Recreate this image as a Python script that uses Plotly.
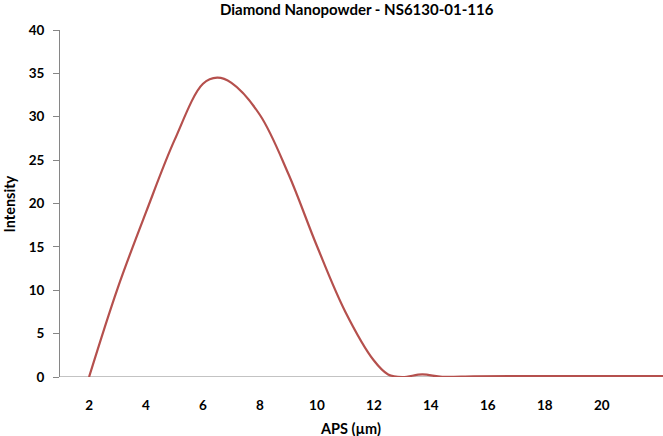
import plotly.graph_objects as go

# particle size (um) vs intensity
aps = [2, 3, 4, 5, 6, 6.5, 7, 8, 9, 10, 11, 12, 12.5, 13, 13.7, 14.4,
       15.5, 17, 19, 21, 22.15]
intensity = [0, 10.2, 19.0, 27.3, 33.8, 34.5, 33.9, 30.2, 23.4, 15.1, 7.5, 1.9,
             0.3, 0.0, 0.3, 0.02, 0.08, 0.1, 0.1, 0.1, 0.1]

x_ticks = [2, 4, 6, 8, 10, 12, 14, 16, 18, 20]
y_ticks = [0, 5, 10, 15, 20, 25, 30, 35, 40]

LINE_COLOR = "#B5504D"
AXIS_COLOR = "#868686"
FONT = "Lato"

fig = go.Figure()

fig.add_trace(go.Scatter(
    x=aps,
    y=intensity,
    mode="lines",
    line=dict(color=LINE_COLOR, width=2.2, shape="spline", smoothing=1),
    showlegend=False,
    hoverinfo="skip",
))

fig.update_layout(
    width=663,
    height=436,
    paper_bgcolor="white",
    plot_bgcolor="white",
    margin=dict(l=60, r=0, t=30, b=59),
    font=dict(family=FONT, color="#000000", size=13),
    title=dict(
        text="<b>Diamond Nanopowder - NS6130-01-116</b>",
        font=dict(family=FONT, size=15, color="#000000"),
        x=0.492,
        xref="paper",
        xanchor="center",
        y=0.977,
        yanchor="middle",
    ),
    xaxis=dict(
        range=[0.98, 22.15],
        tickvals=x_ticks,
        ticktext=[f"<b>{t}</b>" for t in x_ticks],
        ticks="",
        ticklabelstandoff=18,
        showgrid=False,
        zeroline=False,
        showline=False,
        tickfont=dict(family=FONT, size=13.5, color="#000000"),
        fixedrange=True,
    ),
    yaxis=dict(
        range=[0, 40],
        tickvals=y_ticks,
        ticktext=[f"<b>{t}</b>" for t in y_ticks],
        ticks="outside",
        ticklen=6,
        tickcolor=AXIS_COLOR,
        ticklabelstandoff=6,
        showgrid=False,
        zeroline=False,
        showline=True,
        linecolor=AXIS_COLOR,
        linewidth=1,
        tickfont=dict(family=FONT, size=13.5, color="#000000"),
        fixedrange=True,
    ),
    annotations=[
        dict(
            text="<b>APS (µm)</b>", xref="paper", yref="paper",
            x=0.481, y=-0.147, xanchor="center", yanchor="middle",
            showarrow=False, font=dict(family=FONT, size=14.5, color="#000000"),
        ),
        dict(
            text="<b>Intensity</b>", xref="paper", yref="paper",
            x=-0.083, y=0.5, xanchor="center", yanchor="middle", textangle=-90,
            showarrow=False, font=dict(family=FONT, size=14.5, color="#000000"),
        ),
    ],
)

# horizontal axis line at y = 0
fig.add_hline(y=0, line=dict(color=AXIS_COLOR, width=1), layer="below")

# drop the default 8px body margin so the figure sits at the page origin
fig.write_html(
    "out.html",
    config={"displayModeBar": False},
    post_script="document.body.style.margin='0';",
)
